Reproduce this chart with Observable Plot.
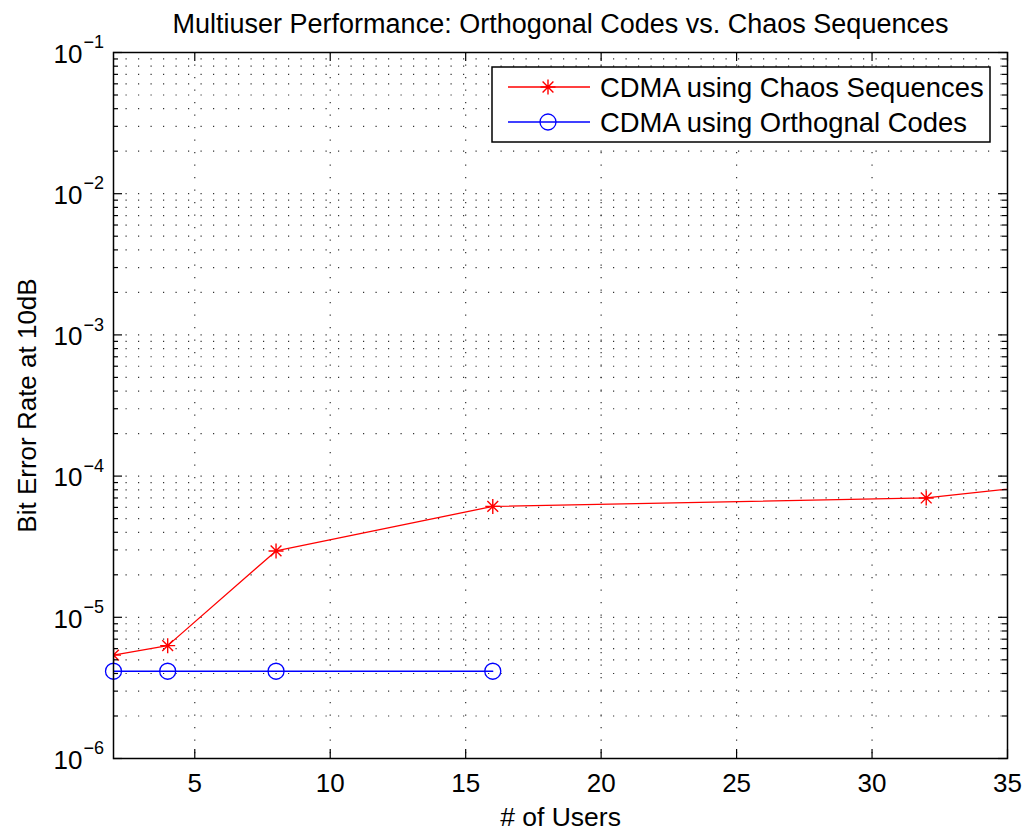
<!DOCTYPE html>
<html>
<head>
<meta charset="utf-8">
<script src="https://cdn.jsdelivr.net/npm/d3@7"></script>
<script src="https://cdn.jsdelivr.net/npm/@observablehq/plot@0.6"></script>
<style>
  html, body { margin: 0; padding: 0; background: #fff; }
  #chart svg { display: block; }
</style>
</head>
<body>
<div id="chart"></div>
<script>
// ---- data ----
const usersChaos = [2, 4, 8, 16, 32, 64];
const berChaos = [5.4e-6, 6.3e-6, 2.95e-5, 6.1e-5, 7.0e-5, 3.3e-4];
const usersOrth = [2, 4, 8, 16];
const berOrth = [4.15e-6, 4.15e-6, 4.15e-6, 4.15e-6];

const xTicks = [5, 10, 15, 20, 25, 30, 35];
const yDecades = [1e-6, 1e-5, 1e-4, 1e-3, 1e-2, 1e-1];
const yExponents = ["\u22126", "\u22125", "\u22124", "\u22123", "\u22122", "\u22121"];
const yMinor = [];
for (const d of [1e-6, 1e-5, 1e-4, 1e-3, 1e-2]) for (const m of [2,3,4,5,6,7,8,9]) yMinor.push(+(m * d).toPrecision(3));
const yGrid = yDecades.concat(yMinor);

const titleText = "Multiuser Performance: Orthogonal Codes vs. Chaos Sequences";
const xLabel = "# of Users";
const yLabel = "Bit Error Rate at 10dB";
const seriesNames = ["CDMA using Chaos Sequences", "CDMA using Orthognal Codes"];
const seriesColors = ["#ff0000", "#0000ff"];

const chaos = usersChaos.map((u, i) => ({users: u, ber: berChaos[i]}));
const orth = usersOrth.map((u, i) => ({users: u, ber: berOrth[i]}));

// ---- layout ----
const W = 1029, H = 836;
const mL = 113, mR = 22, mT = 52, mB = 78;
const pW = W - mL - mR, pH = H - mT - mB;
const FONT = "'Liberation Sans', Arial, Helvetica, sans-serif";
const FS = 26;
const gridDash = "1.2,11.3";

// MATLAB-like '*' marker: + and x combined
const starSymbol = {
  draw(context, size) {
    const r = Math.sqrt(size / Math.PI);
    const d = r * 0.72;
    context.moveTo(0, -r); context.lineTo(0, r);
    context.moveTo(-r, 0); context.lineTo(r, 0);
    context.moveTo(-d, -d); context.lineTo(d, d);
    context.moveTo(-d, d); context.lineTo(d, -d);
  }
};

const plot = Plot.plot({
  width: W, height: H,
  marginLeft: mL, marginRight: mR, marginTop: mT, marginBottom: mB,
  style: {fontFamily: FONT, background: "#fff", overflow: "visible"},
  x: {type: "linear", domain: [2, 35], axis: null},
  y: {type: "log", domain: [1e-6, 1e-1], axis: null},
  marks: [
    // dotted grid
    Plot.ruleY(yGrid, {y: d => d, stroke: "#333", strokeWidth: 1.2, strokeDasharray: gridDash}),
    Plot.ruleX(xTicks.slice(0, -1), {x: d => d, stroke: "#333", strokeWidth: 1.2, strokeDasharray: gridDash}),
    // series
    Plot.line(chaos, {x: "users", y: "ber", stroke: seriesColors[0], strokeWidth: 1.3, clip: true}),
    Plot.dot(chaos, {x: "users", y: "ber", symbol: starSymbol, r: 7.5, stroke: seriesColors[0], strokeWidth: 1.4, clip: true}),
    Plot.line(orth, {x: "users", y: "ber", stroke: seriesColors[1], strokeWidth: 1.3, clip: true}),
    Plot.dot(orth, {x: "users", y: "ber", symbol: "circle", r: 8, stroke: seriesColors[1], strokeWidth: 1.3, fill: "none"}),
    // inward ticks: left/right major + minor
    Plot.ruleY(yDecades, {y: d => d, stroke: "black", strokeWidth: 1.2, insetRight: pW - 9}),
    Plot.ruleY(yDecades, {y: d => d, stroke: "black", strokeWidth: 1.2, insetLeft: pW - 9}),
    Plot.ruleY(yMinor, {y: d => d, stroke: "black", strokeWidth: 1.2, insetRight: pW - 5}),
    Plot.ruleY(yMinor, {y: d => d, stroke: "black", strokeWidth: 1.2, insetLeft: pW - 5}),
    // bottom/top ticks
    Plot.ruleX(xTicks, {x: d => d, stroke: "black", strokeWidth: 1.2, insetTop: pH - 9}),
    Plot.ruleX(xTicks, {x: d => d, stroke: "black", strokeWidth: 1.2, insetBottom: pH - 9}),
    // frame
    Plot.frame({stroke: "black", strokeWidth: 1.5}),
    // x tick labels
    Plot.text(xTicks, {x: d => d, text: d => String(d), frameAnchor: "bottom", lineAnchor: "middle", dy: 25, fontSize: FS, fill: "black"}),
    // y tick labels: 10 and exponent
    Plot.text(yDecades, {y: d => d, text: () => "10", frameAnchor: "left", textAnchor: "end", lineAnchor: "middle", dx: -31, dy: 2, fontSize: FS, fill: "black"}),
    Plot.text(yDecades, {y: d => d, text: (d, i) => yExponents[i], frameAnchor: "left", textAnchor: "start", lineAnchor: "middle", dx: -30, dy: -10, fontSize: 18, fill: "black"}),
    // title & axis labels
    Plot.text([titleText], {text: d => d, frameAnchor: "top", textAnchor: "middle", lineAnchor: "bottom", dy: -20, fontSize: 27, fill: "black"}),
    Plot.text([xLabel], {text: d => d, frameAnchor: "bottom", textAnchor: "middle", lineAnchor: "bottom", dy: 67, fontSize: 26.5, fill: "black"}),
    Plot.text([yLabel], {text: d => d, frameAnchor: "left", textAnchor: "middle", rotate: -90, lineAnchor: "bottom", dx: -78, fontSize: 26, fill: "black"})
  ]
});

document.getElementById("chart").appendChild(plot);

// ---- legend ----
const svg = d3.select(plot);
const lg = svg.append("g").attr("font-family", FONT).attr("text-anchor", "start");
const bx = 492, by = 67, bw = 498, bh = 75;
lg.append("rect").attr("x", bx).attr("y", by).attr("width", bw).attr("height", bh)
  .attr("fill", "white").attr("stroke", "black").attr("stroke-width", 1.5);
const rows = [87, 122];
seriesNames.forEach((name, i) => {
  const yy = rows[i];
  lg.append("line").attr("x1", 508).attr("x2", 590).attr("y1", yy).attr("y2", yy)
    .attr("stroke", seriesColors[i]).attr("stroke-width", 1.3);
  if (i === 0) {
    const p = d3.path();
    starSymbol.draw(p, Math.PI * 7.5 * 7.5);
    lg.append("path").attr("d", p.toString()).attr("transform", `translate(548,${yy})`)
      .attr("stroke", seriesColors[i]).attr("fill", "none").attr("stroke-width", 1.4);
  } else {
    lg.append("circle").attr("cx", 548).attr("cy", yy).attr("r", 8)
      .attr("stroke", seriesColors[i]).attr("fill", "none").attr("stroke-width", 1.3);
  }
  lg.append("text").attr("x", 600).attr("y", yy).attr("dy", "0.35em")
    .attr("text-anchor", "start")
    .attr("font-size", 27.4).attr("fill", "black").text(name);
});
</script>
</body>
</html>
